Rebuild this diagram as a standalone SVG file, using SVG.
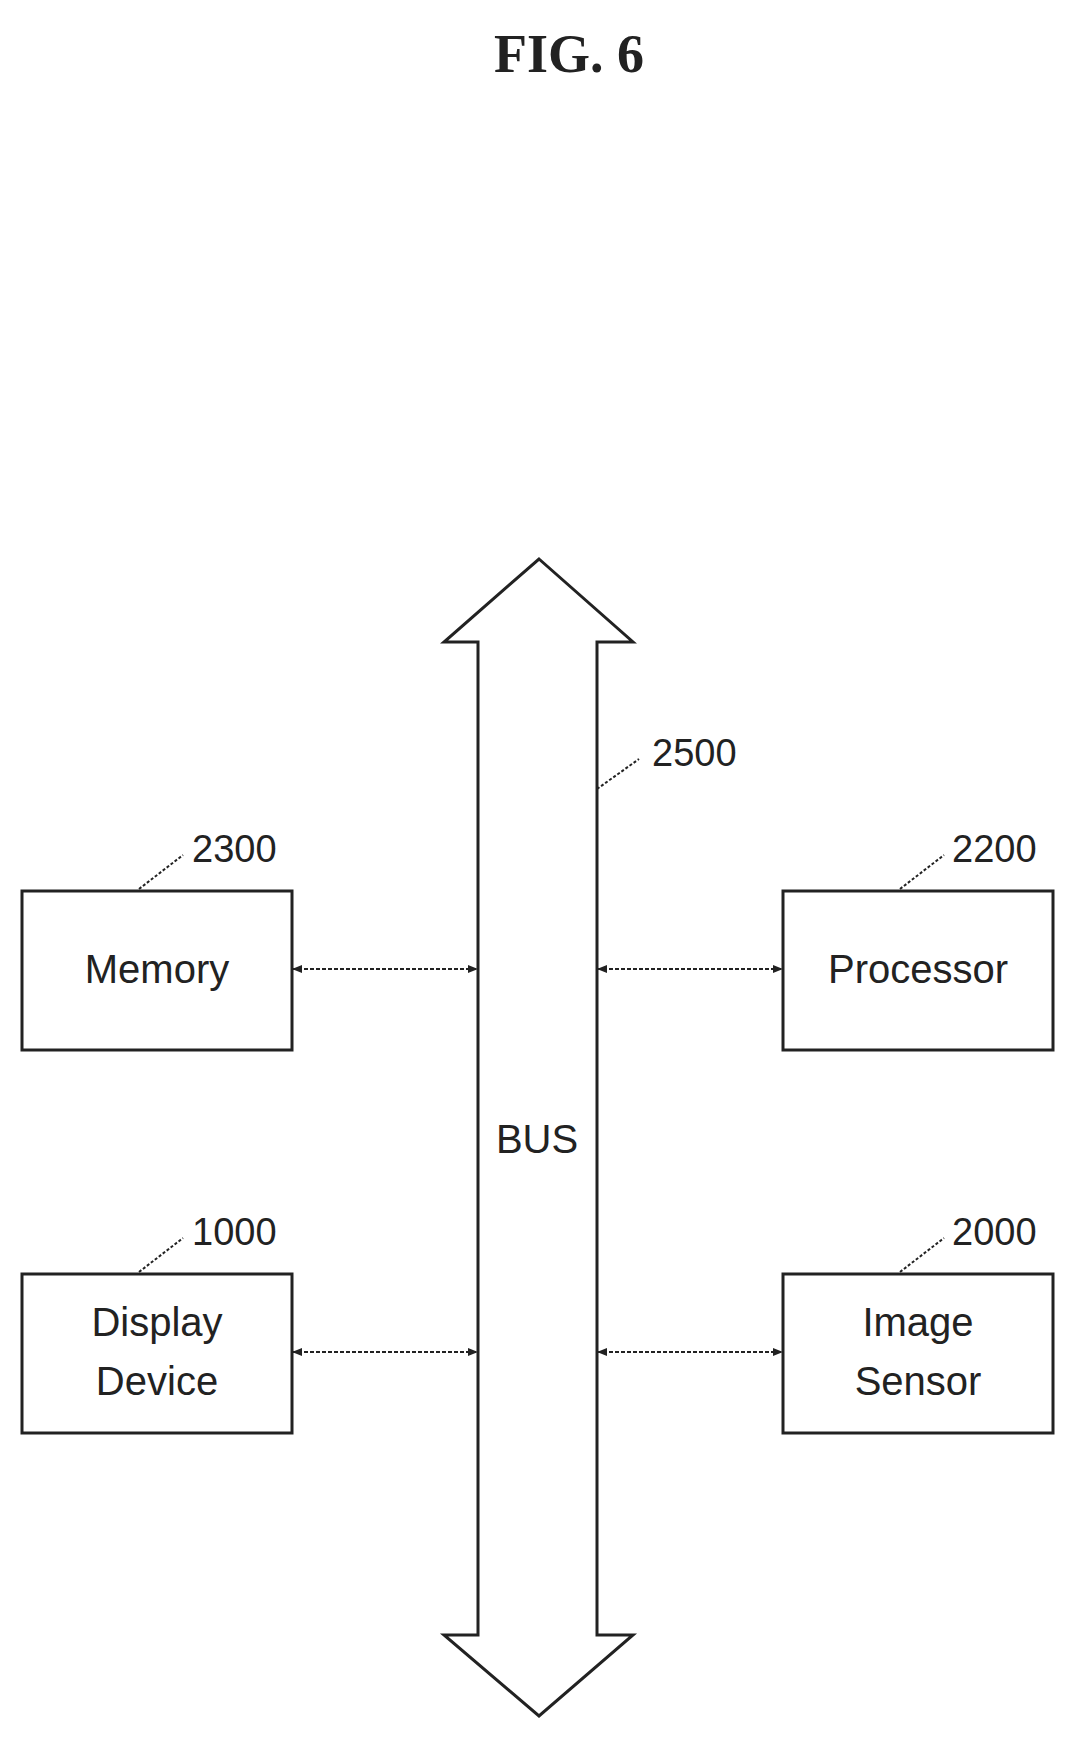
<svg xmlns="http://www.w3.org/2000/svg" width="1078" height="1745" viewBox="0 0 1078 1745">
<defs>
<marker id="ah" viewBox="0 0 10 10" refX="10" refY="5" markerWidth="10" markerHeight="10" markerUnits="userSpaceOnUse" orient="auto-start-reverse"><path d="M0,1 L10,5 L0,9 Z" fill="#222"/></marker>
<style>
.b{fill:#fff;stroke:#222;stroke-width:3}
.t{font-family:"Liberation Sans",Arial,sans-serif;font-size:40px;fill:#222;text-anchor:middle}
.n{font-family:"Liberation Sans",Arial,sans-serif;font-size:38px;fill:#222}
.c{stroke:#222;stroke-width:2;stroke-dasharray:4 2;fill:none}
.l{stroke:#222;stroke-width:2;stroke-dasharray:3 2;fill:none}
</style>
</defs>
<rect width="1078" height="1745" fill="#fff"/>
<text x="569" y="72" font-family="Liberation Serif,serif" font-size="54" font-weight="bold" text-anchor="middle" fill="#222">FIG.  6</text>
<g id="bus">
<path class="b" d="M539,559 L633,642 L597,642 L597,1635 L633,1635 L539,1716 L444,1635 L478,1635 L478,642 L444,642 Z"/>
<text class="t" x="537" y="1153">BUS</text>
<path class="l" d="M597,789 L639,759"/>
<text class="n" x="652" y="766">2500</text>
</g>
<g id="memory">
<rect class="b" x="22" y="891" width="270" height="159"/>
<text class="t" x="157" y="983">Memory</text>
<path class="l" d="M139,889 L183,855"/>
<text class="n" x="192" y="862">2300</text>
</g>
<g id="processor">
<rect class="b" x="783" y="891" width="270" height="159"/>
<text class="t" x="918" y="983">Processor</text>
<path class="l" d="M900,889 L944,855"/>
<text class="n" x="952" y="862">2200</text>
</g>
<g id="display">
<rect class="b" x="22" y="1274" width="270" height="159"/>
<text class="t" x="157" y="1336">Display</text>
<text class="t" x="157" y="1395">Device</text>
<path class="l" d="M139,1272 L183,1238"/>
<text class="n" x="192" y="1245">1000</text>
</g>
<g id="sensor">
<rect class="b" x="783" y="1274" width="270" height="159"/>
<text class="t" x="918" y="1336">Image</text>
<text class="t" x="918" y="1395">Sensor</text>
<path class="l" d="M900,1272 L944,1238"/>
<text class="n" x="952" y="1245">2000</text>
</g>
<g id="connectors">
<path class="c" d="M292,969 L478,969" marker-start="url(#ah)" marker-end="url(#ah)"/>
<path class="c" d="M597,969 L783,969" marker-start="url(#ah)" marker-end="url(#ah)"/>
<path class="c" d="M292,1352 L478,1352" marker-start="url(#ah)" marker-end="url(#ah)"/>
<path class="c" d="M597,1352 L783,1352" marker-start="url(#ah)" marker-end="url(#ah)"/>
</g>
</svg>
